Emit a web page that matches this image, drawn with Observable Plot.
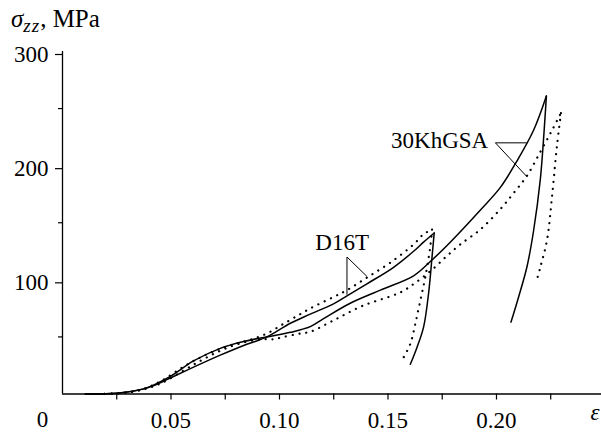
<!DOCTYPE html>
<html>
<head>
<meta charset="utf-8">
<script src="https://cdn.jsdelivr.net/npm/d3@7"></script>
<script src="https://cdn.jsdelivr.net/npm/@observablehq/plot@0.6"></script>
<style>
  html, body { margin: 0; padding: 0; background: #fff; }
  #chart svg, #chart svg text, #chart svg tspan { font-family: "Liberation Serif", "DejaVu Serif", serif !important; }
</style>
</head>
<body>
<div id="chart"></div>
<script>
// ---- data (ε, σzz in MPa) ----
// D16T, experiment (solid)
const d16tExpLoadEps   = [0.0105,0.025,0.0374,0.043,0.0497,0.0604,0.0727,0.0835,0.0942,0.105,0.1142,0.1249,0.1311,0.1403,0.1526,0.1618,0.1664,0.1713];
const d16tExpLoadSig   = [0,0.7,4.5,8,14,23.5,34,42.5,50,62,70,79,86,96.5,111,125,133,141];
const d16tExpUnloadEps = [0.1703,0.1687,0.1664,0.1634,0.1603];
const d16tExpUnloadSig = [120,88,58.6,41,26];
// 30KhGSA, experiment (solid)
const khgExpLoadEps   = [0.0105,0.025,0.0374,0.0497,0.0604,0.0727,0.0835,0.0912,0.0942,0.105,0.1142,0.1203,0.1326,0.1465,0.1618,0.1695,0.1787,0.1925,0.2018,0.2094,0.2171,0.223];
const khgExpLoadSig   = [0,0.7,4.5,15.5,29,40,46,49,50,54,59,66,79.5,91,103.5,116,133,161,181,204,231,261];
const khgExpUnloadEps = [0.2225,0.2202,0.2171,0.214,0.2102,0.2067];
const khgExpUnloadSig = [246,188,143,111,85,63];
// D16T, calculation (dotted)
const d16tCalcLoadEps   = [0.013,0.025,0.035,0.045,0.0558,0.0635,0.0712,0.0788,0.0865,0.0942,0.1019,0.1096,0.1142,0.1249,0.1311,0.1403,0.151,0.1618,0.1664,0.1703];
const d16tCalcLoadSig   = [0,0.5,3,11,24,32,38.5,43.5,47.5,53,61.5,70,75,85,91,102,115,131,140,144];
const d16tCalcUnloadEps = [0.1695,0.1672,0.1649,0.1626,0.1603,0.1569];
const d16tCalcUnloadSig = [129,102.5,82,61.6,44,31];
// 30KhGSA, calculation (dotted)
const khgCalcLoadEps   = [0.013,0.025,0.035,0.045,0.0558,0.0635,0.0712,0.0788,0.0865,0.0927,0.0973,0.1019,0.1096,0.1142,0.1249,0.138,0.1557,0.163,0.171,0.1772,0.1833,0.1925,0.2018,0.2079,0.214,0.2202,0.2256,0.2297];
const khgCalcLoadSig   = [0,0.5,3,9,20.6,29,36.5,42.5,46.5,48,48,50,53,54.5,64.5,77,89,98,110,121,131,144,162,176,191,212,231,246];
const khgCalcUnloadEps = [0.2278,0.2256,0.2233,0.2202,0.2183];
const khgCalcUnloadSig = [216,173,135,111,98];

// axis ticks
const xMajorTicks = [0.05, 0.10, 0.15, 0.20];
const xAllTicks   = [0.025, 0.05, 0.075, 0.10, 0.125, 0.15, 0.175, 0.20, 0.225];
const yMajorTicks = [100, 200, 300];
const yMinorTicks = [50, 150, 250];

// labels with leader lines (data coordinates)
const labelNames = ["D16T", "30KhGSA"];
const d16tLeader = [[0.1311, 120, 0.1311, 87], [0.1311, 120, 0.1403, 103]];
const khgLeader  = [[0.1995, 220, 0.2140, 220], [0.1995, 220, 0.2142, 190]];

// ---- build rows ----
function rows(key, le, ls, ue, us) {
  const out = [];
  le.forEach((e, i) => out.push({key: key + "-load", eps: e, sig: ls[i]}));
  const n = le.length - 1;
  out.push({key: key + "-unload", eps: le[n], sig: ls[n]});
  ue.forEach((e, i) => out.push({key: key + "-unload", eps: e, sig: us[i]}));
  return out;
}
const solidRows = [
  ...rows("d16t", d16tExpLoadEps, d16tExpLoadSig, d16tExpUnloadEps, d16tExpUnloadSig),
  ...rows("khg", khgExpLoadEps, khgExpLoadSig, khgExpUnloadEps, khgExpUnloadSig)
];
const dottedRows = [
  ...rows("d16t", d16tCalcLoadEps, d16tCalcLoadSig, d16tCalcUnloadEps, d16tCalcUnloadSig),
  ...rows("khg", khgCalcLoadEps, khgCalcLoadSig, khgCalcUnloadEps, khgCalcUnloadSig)
];
const leaders = [...d16tLeader, ...khgLeader].map(([x1, y1, x2, y2]) => ({x1, y1, x2, y2}));

const FONT = "Liberation Serif";
const txt = {fontFamily: FONT, fontSize: 23};

const chart = Plot.plot({
  width: 601,
  height: 432,
  marginLeft: 62,
  marginRight: 0,
  marginTop: 51,
  marginBottom: 38.5,
  style: {fontFamily: FONT, fontSize: "23px", background: "#fff", color: "#000", overflow: "visible"},
  x: {domain: [0, 0.2484], label: null},
  y: {domain: [0, 300], label: null},
  marks: [
    // axes lines
    Plot.ruleY([0], {stroke: "#000", strokeWidth: 1.3}),
    Plot.ruleX([0], {y1: 0, y2: 300, stroke: "#000", strokeWidth: 1.3}),
    // x ticks (outward, downward) and labels
    Plot.axisX(xAllTicks, {tickSize: 6, tickFormat: () => "", strokeWidth: 1.2}),
    Plot.axisX(xMajorTicks, {tickSize: 0, tickPadding: 18, tickFormat: d3.format(".2f"), ...txt}),
    // y ticks
    Plot.axisY(yMajorTicks, {tickSize: 7, tickPadding: 7, dy: 3, strokeWidth: 1.2, ...txt}),
    Plot.axisY(yMinorTicks, {tickSize: 4, tickFormat: () => "", strokeWidth: 1.2}),
    // origin label
    Plot.text([0], {x: 0, y: 0, text: () => "0", dx: -20, dy: 26, lineAnchor: "middle", ...txt}),
    // curves
    Plot.line(solidRows, {x: "eps", y: "sig", z: "key", stroke: "#000", strokeWidth: 1.5, curve: "catmull-rom"}),
    Plot.line(dottedRows, {x: "eps", y: "sig", z: "key", stroke: "#000", strokeWidth: 2.2,
      strokeDasharray: "0.1 6.8", strokeLinecap: "round", curve: "catmull-rom"}),
    // leader lines and labels
    Plot.link(leaders, {x1: "x1", y1: "y1", x2: "x2", y2: "y2", stroke: "#000", strokeWidth: 1}),
    Plot.text([labelNames[0]], {x: 0.1289, y: 133, text: d => d, textAnchor: "middle", lineAnchor: "middle", ...txt}),
    Plot.text([labelNames[1]], {x: 0.1962, y: 222, text: d => d, textAnchor: "end", lineAnchor: "middle", ...txt}),
    // x axis symbol
    Plot.text(["ε"], {frameAnchor: "bottom-right", text: d => d, dx: -2, dy: 19,
      fontStyle: "italic", textAnchor: "end", lineAnchor: "middle", ...txt})
  ]
});

// y axis title with subscript
const svg = d3.select(chart);
const t = svg.append("text")
  .attr("x", 11).attr("y", 27)
  .attr("text-anchor", "start")
  .attr("font-family", FONT).attr("font-size", 25).attr("fill", "#000");
t.append("tspan").attr("font-style", "italic").text("σ");
t.append("tspan").attr("font-style", "italic").attr("font-size", 19).attr("dy", 5).attr("letter-spacing", 1).text("zz");
t.append("tspan").attr("dy", -5).text(", MPa");

document.getElementById("chart").appendChild(chart);
</script>
</body>
</html>
